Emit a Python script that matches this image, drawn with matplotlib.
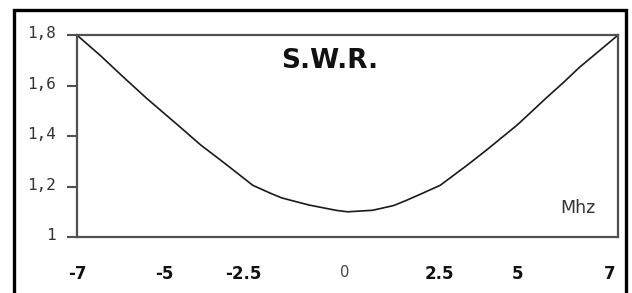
'''
S.W.R. curve across the band
'''
import matplotlib
matplotlib.use("Agg")
import matplotlib.pyplot as plt
import matplotlib.transforms as mtransforms
from matplotlib.patches import Rectangle

# defining constants: data
FREQ = [-7.0, -6.4, -5.8, -5.2, -4.4, -3.8, -3.2, -2.45, -2.0, -1.7, -1.0,
        -0.3, 0.0, 0.65, 1.2, 1.55, 1.95, 2.4, 3.1, 3.6, 4.4, 5.15, 5.6,
        6.0, 7.0]
SWR = [1.80, 1.72, 1.634, 1.55, 1.445, 1.365, 1.295, 1.205, 1.174, 1.155,
       1.127, 1.106, 1.100, 1.106, 1.125, 1.147, 1.174, 1.205, 1.285, 1.345,
       1.445, 1.552, 1.614, 1.672, 1.80]

X_TICK_POS = [-7.0, -4.75, -2.7, -0.06, 2.39, 4.4, 6.79]
X_TICK_LABELS = ["-7", "-5", "-2.5", "0", "2.5", "5", "7"]
Y_TICKS = [1.0, 1.2, 1.4, 1.6, 1.8]
Y_TICK_LABELS = ["1", "1,2", "1,4", "1,6", "1,8"]

TITLE = "S.W.R."
UNIT = "Mhz"
SPINE_COLOR = "#505050"


def style_axes(fig, ax):
    """
    :param fig: the figure, used for the label offset
    :param ax: the axes to dress up
    Does: sets limits, ticks, tick labels and spines
    :return: Nothing
    """
    ax.set_xlim(-7, 7)
    ax.set_ylim(1.0, 1.8)

    ax.set_yticks(Y_TICKS, Y_TICK_LABELS)
    ax.tick_params(axis="y", direction="out", length=7, width=1.5,
                   color=SPINE_COLOR, pad=8, labelsize=11.5,
                   labelcolor="#333333")
    # the y labels sit a few pixels above their ticks
    lift = mtransforms.ScaledTranslation(0, 3 / 100, fig.dpi_scale_trans)
    for lab in ax.get_yticklabels():
        lab.set_family("DejaVu Sans Mono")
        lab.set_va("center_baseline")
        lab.set_transform(lab.get_transform() + lift)

    ax.set_xticks(X_TICK_POS, X_TICK_LABELS)
    ax.tick_params(axis="x", length=0, pad=20, labelsize=12)
    for lab in ax.get_xticklabels():
        if lab.get_text() == "0":
            # the zero is drawn smaller and thinner than the rest
            lab.set_fontsize(10.5)
            lab.set_color("#444444")
        else:
            lab.set_fontweight("bold")
            lab.set_color("#111111")

    for side in ["left", "right", "top", "bottom"]:
        ax.spines[side].set_color(SPINE_COLOR)
        ax.spines[side].set_linewidth(1.6)


def main():
    fig = plt.figure(figsize=(6.32, 2.93), dpi=100)
    fig.patch.set_facecolor("white")
    ax = fig.add_axes([0.1218, 0.191, 0.856, 0.689])

    ax.plot(FREQ, SWR, color="#1a1a1a", linewidth=1.2, clip_on=False)
    style_axes(fig, ax)

    # title and unit sit inside the plot area
    ax.text(0.468, 0.87, TITLE, transform=ax.transAxes, ha="center",
            va="center", fontsize=19, fontweight="bold", color="#111111")
    ax.text(0.925, 0.145, UNIT, transform=ax.transAxes, ha="center",
            va="center", fontsize=12.5, color="#333333")

    # thick outer frame, running off the bottom of the picture
    frame = Rectangle((0.0225, -0.1), 0.968, 1.066, transform=fig.transFigure,
                      fill=False, edgecolor="black", linewidth=2.4)
    fig.add_artist(frame)

    fig.savefig("out.png", dpi=100)


if __name__ == "__main__":
    main()
